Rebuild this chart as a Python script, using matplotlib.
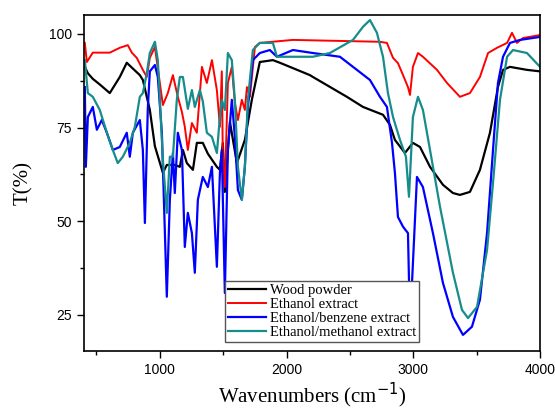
import matplotlib.pyplot as plt

# FTIR spectra (wavenumber in cm-1, transmittance in %)
wood_wn = [408, 432, 471, 526, 605, 684, 739, 779, 842, 866, 921, 961, 1024, 1055, 1118, 1158,
           1182, 1213, 1261, 1292, 1339, 1379, 1450, 1474, 1497, 1513, 1553, 1608, 1671, 1726,
           1789, 1892, 1947, 2184, 2208, 2476, 2603, 2761, 2816, 2855, 2934, 2997, 3053, 3132,
           3234, 3313, 3368, 3447, 3526, 3605, 3668, 3708, 3763, 3897, 4000]
wood_t = [91.2, 89.5, 88, 86.5, 84.2, 88.5, 92.3, 91, 89, 87.7, 79.7, 70, 62.9, 65, 65, 64.5,
          69, 65.5, 63.7, 70.9, 70.9, 68, 64.5, 63.7, 70.9, 57.8, 76.5, 65.5, 71.7, 82.4,
          92.5, 93, 92.3, 89, 88.5, 83.2, 80.5, 78.4, 75.7, 71.7, 68.2, 70.9, 69.8, 64.5,
          59.7, 57.5, 57, 57.8, 63.7, 73.6, 85.8, 90.4, 91.2, 90.4, 90]

eth_wn = [408, 424, 471, 605, 684, 747, 779, 818, 866, 897, 921, 961, 1000, 1024, 1063, 1103,
          1142, 1174, 1197, 1221, 1253, 1292, 1332, 1371, 1411, 1450, 1474, 1489, 1497, 1513,
          1537, 1568, 1592, 1616, 1647, 1671, 1687, 1711, 1750, 1789, 2050, 2737, 2792, 2840,
          2879, 2919, 2958, 2974, 2997, 3037, 3076, 3187, 3266, 3368, 3447, 3526, 3590, 3661,
          3740, 3779, 3818, 3866, 4000]
eth_t = [97.6, 92.5, 95, 95, 96.3, 97, 95, 93.6, 90.4, 88.5, 93.6, 96.5, 86.9, 81, 84.2, 89,
         83.2, 79.2, 75.2, 69, 76.2, 73.6, 91.2, 86.9, 93, 85, 75.2, 90, 67.2, 59.1,
         86.9, 91.2, 81.6, 77, 82.4, 79.7, 85.8, 83.2, 96.5, 97.6, 98.4, 97.9, 97.6, 93.6,
         92.2, 89, 85.8, 83.7, 91.2, 94.9, 93.9, 90.4, 86.9, 83.2, 84.2, 88.5, 94.9, 96.3,
         97.6, 100.3, 97.6, 98.9, 99.7]

benz_wn = [408, 416, 432, 471, 503, 542, 582, 629, 684, 739, 763, 787, 842, 866, 882, 905,
           921, 961, 984, 1016, 1032, 1055, 1079, 1103, 1118, 1142, 1174, 1197, 1221, 1253,
           1276, 1300, 1339, 1379, 1411, 1450, 1474, 1489, 1513, 1537, 1568, 1592, 1616, 1647,
           1671, 1695, 1734, 1789, 1868, 1924, 2050, 2208, 2421, 2555, 2658, 2737, 2792, 2832,
           2855, 2879, 2919, 2958, 2974, 3029, 3076, 3155, 3234, 3313, 3392, 3463, 3526, 3582,
           3629, 3668, 3708, 3763, 3842, 4000]
benz_t = [85.8, 64.5, 77.8, 80.5, 74.4, 77, 73.6, 69, 69.8, 73.6, 67.2, 73.6, 77, 69, 49.5, 80,
          90, 91.7, 88.5, 73.6, 55.7, 29.8, 55.7, 68.2, 57.5, 73.6, 69, 43.1, 52.2, 46.8,
          36.2, 55.7, 61.8, 59.1, 64.5, 37.8, 62.9, 69, 30.8, 69, 82.4, 72.5, 58.3, 55.7,
          64.5, 80.5, 93, 94.9, 95.7, 93.9, 95.7, 94.9, 93.9, 90.4, 87.7, 83.2, 80.5, 70.9,
          62.9, 51.1, 48.5, 46.8, 22, 61.8, 59.1, 46.8, 33.5, 24.4, 19.6, 21.8, 29, 46.8,
          69, 86.9, 93.9, 97.6, 98.4, 99.2]

meth_wn = [408, 432, 471, 526, 582, 629, 668, 708, 763, 803, 842, 866, 897, 921, 961, 984,
           1000, 1024, 1055, 1079, 1103, 1134, 1158, 1182, 1221, 1253, 1276, 1316, 1339, 1371,
           1411, 1450, 1474, 1489, 1513, 1537, 1568, 1592, 1616, 1647, 1671, 1695, 1734, 1789,
           1892, 1924, 1971, 2184, 2208, 2342, 2524, 2603, 2658, 2713, 2761, 2800, 2840, 2895,
           2942, 2966, 2997, 3037, 3076, 3132, 3211, 3313, 3384, 3432, 3503, 3582, 3629, 3684,
           3740, 3787, 3897, 4000]
meth_t = [93, 84.2, 83.2, 79.7, 73.6, 69, 65.5, 67.2, 70.9, 75.2, 83.2, 84.2, 89.5, 94.9, 97.9, 93,
          82.4, 66.4, 52.2, 67.2, 67.2, 82.4, 88.5, 88.5, 80, 85, 80.5, 85, 82, 73.6,
          72.5, 68.2, 77.8, 82.4, 79.7, 94.9, 93, 82.4, 64.5, 55.7, 64.5, 82.4, 95.7, 97.6,
          97.6, 93.9, 93.9, 93.9, 93.9, 94.9, 98.4, 101.9, 103.7, 100.3, 93.9, 84.2, 77.8, 71.7,
          67.2, 56.5, 77.8, 83.2, 79.7, 69, 53.8, 36.2, 26.3, 24.1, 27.1, 42.3, 60.2, 82.4,
          93.9, 95.7, 94.9, 91.2]

fig = plt.figure(figsize=(5.55, 4.12), dpi=100)
ax = fig.add_axes([0.151, 0.148, 0.822, 0.816])

ax.plot(wood_wn, wood_t, color='black', lw=1.6, label='Wood powder')
ax.plot(eth_wn, eth_t, color='#ff0000', lw=1.4, label='Ethanol extract')
ax.plot(benz_wn, benz_t, color='#0000ff', lw=1.6, label='Ethanol/benzene extract')
ax.plot(meth_wn, meth_t, color='#168c8c', lw=1.6, label='Ethanol/methanol extract')

ax.set_xlim(400, 4000)
ax.set_ylim(15.3, 105.1)
ax.set_xticks([1000, 2000, 3000, 4000])
ax.set_xticks([500, 1500, 2500, 3500], minor=True)
ax.set_yticks([25, 50, 75, 100])
ax.set_yticks([37.5, 62.5, 87.5], minor=True)
ax.tick_params(which='both', direction='out', width=1, labelsize=10)
ax.tick_params(which='major', length=5)
ax.tick_params(which='minor', length=3)
for lab in ax.get_xticklabels() + ax.get_yticklabels():
    lab.set_family('Liberation Sans')
for s in ax.spines.values():
    s.set_linewidth(1.2)

ax.set_xlabel('Wavenumbers (cm$^{-1}$)', family='Liberation Serif', fontsize=15, labelpad=3)
ax.set_ylabel('T(%)', family='Liberation Serif', fontsize=15, labelpad=11)

leg = ax.legend(loc='lower left', bbox_to_anchor=(225 / 555, 1 - 342 / 412),
                bbox_transform=fig.transFigure, borderaxespad=0, fancybox=False,
                prop={'family': 'Liberation Serif', 'size': 10.5}, handlelength=2.6,
                handletextpad=0.3, labelspacing=0.05, borderpad=0.2, framealpha=1)
leg.get_frame().set_edgecolor('#555555')
leg.get_frame().set_linewidth(1.0)

plt.savefig('out.png', dpi=100)
